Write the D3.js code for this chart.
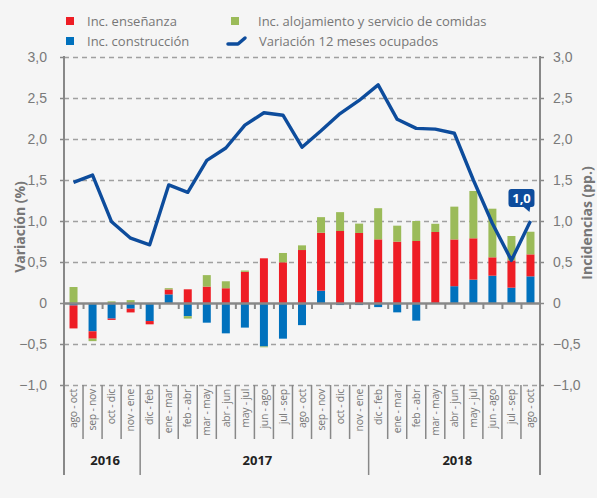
<!DOCTYPE html>
<meta charset="utf-8">
<style>
body { margin: 0; background: #f5f5f5; }
svg { font-family: "Open Sans", sans-serif; }
.grid line { stroke: #a0a0a0; stroke-width: 1.3px; stroke-dasharray: 5,4; }
.grid path { display: none; }
.tick text { fill: #7a7a7a; }
.line { fill: none; stroke: #0d4c9c; stroke-width: 3.4px; stroke-linejoin: round; }
</style>
<body>
<script src="https://d3js.org/d3.v7.min.js"></script>
<script>

// data
var categories = ["ago - oct", "sep - nov", "oct - dic", "nov - ene",
  "dic - feb", "ene - mar", "feb - abr", "mar - may", "abr - jun", "may - jul", "jun - ago", "jul - sep",
  "ago - oct", "sep - nov", "oct - dic", "nov - ene",
  "dic - feb", "ene - mar", "feb - abr", "mar - may", "abr - jun", "may - jul", "jun - ago", "jul - sep", "ago - oct"];
var years = [{label: "2016", from: 0, to: 4}, {label: "2017", from: 4, to: 16}, {label: "2018", from: 16, to: 25}];

var construccion = [-0.03, -0.345, -0.19, -0.07, -0.22, 0.105, -0.16, -0.24, -0.37, -0.30, -0.53, -0.435,
  -0.27, 0.15, -0.025, -0.025, -0.05, -0.114, -0.215, 0.0, 0.205, 0.285, 0.333, 0.187, 0.325];
var ensenanza = [-0.28, -0.09, -0.016, -0.045, -0.04, 0.06, 0.167, 0.2, 0.18, 0.38, 0.545, 0.496,
  0.646, 0.707, 0.878, 0.854, 0.776, 0.748, 0.756, 0.866, 0.57, 0.504, 0.224, 0.333, 0.268];
var alojamiento = [0.195, -0.03, 0.02, 0.035, 0, 0.016, -0.03, 0.14, 0.085, 0.016, -0.01, 0.114,
  0.057, 0.19, 0.23, 0.114, 0.38, 0.195, 0.244, 0.1, 0.40, 0.577, 0.593, 0.297, 0.276];
var ocupados = [1.47, 1.56, 0.99, 0.79, 0.71, 1.44, 1.35, 1.74, 1.89, 2.17, 2.32, 2.29,
  1.90, 2.10, 2.31, 2.47, 2.66, 2.24, 2.13, 2.12, 2.07, 1.50, 0.97, 0.52, 1.00];
var yTicks = [3, 2.5, 2, 1.5, 1, 0.5, 0, -0.5, -1];

var colors = {construccion: "#0071bd", ensenanza: "#ee1d25", alojamiento: "#9bbb59"};
var lineColor = "#0d4c9c";

var width = 597, height = 498;
var plotLeft = 64, plotRight = 540, plotTop = 57, plotBottom = 385;

var svg = d3.select("body").append("svg")
  .attr("width", width)
  .attr("height", height);

var idx = d3.range(categories.length);
var x = d3.scaleBand().domain(idx).range([plotLeft, plotRight]).paddingInner(0.58).paddingOuter(0.29);
var xb = d3.scaleLinear().domain([0, categories.length]).range([plotLeft, plotRight]);
var y = d3.scaleLinear().domain([-1, 3]).range([plotBottom, plotTop]);

var fmt = function(d) { return d === 0 ? "0" : d3.format(".1f")(d).replace(".", ","); };

// gridlines
svg.append("g")
  .attr("class", "grid")
  .attr("transform", "translate(" + plotLeft + ",0)")
  .call(d3.axisRight(y).tickValues(yTicks.filter(function(d) { return d !== 0; }))
    .tickSize(plotRight - plotLeft).tickFormat(""));

// left axis
var ga = svg.append("g")
  .attr("transform", "translate(" + plotLeft + ",0)")
  .call(d3.axisLeft(y).tickValues(yTicks).tickSize(4).tickPadding(13).tickFormat(fmt));
ga.select(".domain").remove();
ga.selectAll(".tick line").attr("stroke", "#888").attr("stroke-width", 1.5);
ga.selectAll(".tick text").style("font-size", "14px");

// right axis
var gb = svg.append("g")
  .attr("transform", "translate(" + plotRight + ",0)")
  .call(d3.axisRight(y).tickValues(yTicks).tickSize(4).tickPadding(9).tickFormat(fmt));
gb.select(".domain").remove();
gb.selectAll(".tick line").attr("stroke", "#888").attr("stroke-width", 1.5);
gb.selectAll(".tick text").style("font-size", "14px");

// vertical axis lines
[plotLeft, plotRight].forEach(function(px) {
  svg.append("line")
    .attr("x1", px).attr("x2", px)
    .attr("y1", plotTop - 1).attr("y2", 475)
    .attr("stroke", "#888").attr("stroke-width", 2);
});

// stacked bars
var rows = idx.map(function(i) {
  return {i: i, construccion: construccion[i], ensenanza: ensenanza[i], alojamiento: alojamiento[i]};
});
var stack = d3.stack()
  .keys(["construccion", "ensenanza", "alojamiento"])
  .offset(d3.stackOffsetDiverging);
var series = stack(rows);

svg.append("g").selectAll("g")
  .data(series)
  .join("g")
    .attr("fill", function(d) { return colors[d.key]; })
  .selectAll("rect")
  .data(function(d) { return d; })
  .join("rect")
    .attr("x", function(d) { return x(d.data.i); })
    .attr("width", x.bandwidth())
    .attr("y", function(d) { return y(Math.max(d[0], d[1])); })
    .attr("height", function(d) { return Math.abs(y(d[0]) - y(d[1])); });

// zero line with ticks
var gz = svg.append("g")
  .attr("transform", "translate(0," + y(0) + ")")
  .call(d3.axisBottom(xb).tickValues(d3.range(1, categories.length)).tickSize(6).tickSizeOuter(0).tickFormat(""));
gz.select(".domain").attr("stroke", "#888").attr("stroke-width", 2.5);
gz.selectAll(".tick line").attr("stroke", "#888").attr("stroke-width", 2);

// line
var valueline = d3.line()
  .x(function(d, i) { return x(i) + x.bandwidth() / 2; })
  .y(function(d) { return y(d); });

svg.append("path")
  .datum(ocupados)
  .attr("class", "line")
  .attr("d", valueline);

// last value callout
var last = ocupados.length - 1;
var lx = x(last) + x.bandwidth() / 2, ly = y(ocupados[last]);
var call = svg.append("g").attr("transform", "translate(" + (lx - 9) + "," + (ly - 23) + ")");
call.append("rect")
  .attr("x", -13).attr("y", -9).attr("width", 26).attr("height", 18)
  .attr("rx", 3).attr("fill", lineColor);
call.append("path")
  .attr("d", "M1,8 L9,8 L8,14 Z")
  .attr("fill", lineColor);
call.append("text")
  .attr("text-anchor", "middle")
  .attr("dy", "0.36em")
  .attr("fill", "#fff")
  .style("font-size", "13px")
  .style("font-weight", "bold")
  .text(fmt(ocupados[last]));

// category separators and labels
svg.append("g").selectAll("line")
  .data(d3.range(1, categories.length))
  .join("line")
    .attr("x1", function(d) { return xb(d); })
    .attr("x2", function(d) { return xb(d); })
    .attr("y1", plotBottom)
    .attr("y2", function(d) { return years.some(function(yr) { return yr.from === d; }) ? 475 : 439; })
    .attr("stroke", "#888").attr("stroke-width", 1.5);

svg.append("g").selectAll("text")
  .data(idx)
  .join("text")
    .attr("transform", function(d) { return "translate(" + (x(d) + x.bandwidth() / 2) + "," + (plotBottom + 4) + ") rotate(-90)"; })
    .attr("text-anchor", "end")
    .attr("dy", "0.35em")
    .attr("fill", "#777")
    .style("font-size", "10.5px")
    .style("letter-spacing", "-0.3px")
    .text(function(d) { return categories[d]; });

svg.append("g").selectAll("text")
  .data(years)
  .join("text")
    .attr("x", function(d) { return (xb(d.from) + xb(d.to)) / 2 + 3; })
    .attr("y", 465)
    .attr("text-anchor", "middle")
    .attr("fill", "#222")
    .style("font-size", "13px")
    .style("font-weight", "bold")
    .text(function(d) { return d.label; });

// axis titles
svg.append("text")
  .attr("transform", "translate(20,227) rotate(-90)")
  .attr("text-anchor", "middle")
  .attr("dy", "0.35em")
  .attr("fill", "#777")
  .style("font-size", "14px")
  .style("font-weight", "bold")
  .text("Variación (%)");

svg.append("text")
  .attr("transform", "translate(587,223) rotate(-90)")
  .attr("text-anchor", "middle")
  .attr("dy", "0.35em")
  .attr("fill", "#777")
  .style("font-size", "14px")
  .style("font-weight", "bold")
  .text("Incidencias (pp.)");

// legend
var legend = [
  {label: "Inc. enseñanza", key: "ensenanza", x: 66, y: 21, tx: 21},
  {label: "Inc. construcción", key: "construccion", x: 66, y: 41, tx: 21},
  {label: "Inc. alojamiento y servicio de comidas", key: "alojamiento", x: 231, y: 21, tx: 27}
];
var lg = svg.append("g").selectAll("g")
  .data(legend)
  .join("g")
    .attr("transform", function(d) { return "translate(" + d.x + "," + d.y + ")"; });
lg.append("rect")
  .attr("x", 0).attr("y", -4).attr("width", 8).attr("height", 8)
  .attr("fill", function(d) { return colors[d.key]; });
lg.append("text")
  .attr("x", function(d) { return d.tx; })
  .attr("dy", "0.35em")
  .attr("fill", "#777")
  .style("font-size", "13px")
  .text(function(d) { return d.label; });

svg.append("path")
  .attr("d", "M228,44 L238,44 L245,38")
  .attr("fill", "none")
  .attr("stroke", lineColor)
  .attr("stroke-width", 3.5)
  .attr("stroke-linecap", "round")
  .attr("stroke-linejoin", "round");
svg.append("text")
  .attr("x", 259).attr("y", 41)
  .attr("dy", "0.35em")
  .attr("fill", "#777")
  .style("font-size", "13px")
  .text("Variación 12 meses ocupados");

</script>
</body>
